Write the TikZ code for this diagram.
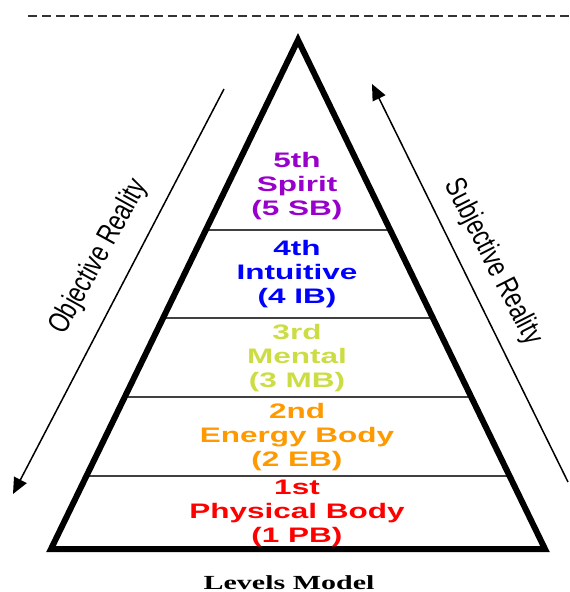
\documentclass[tikz,border=0pt]{standalone}
\usepackage{graphicx}
\usepackage{fontspec}
\setmainfont{Liberation Sans}
\newfontfamily\titlefont{Liberation Serif}
\usetikzlibrary{arrows.meta}
\usetikzlibrary{positioning}
\definecolor{spirit}{RGB}{153,0,204}
\definecolor{intuit}{RGB}{0,0,255}
\definecolor{mental}{RGB}{204,221,68}
\definecolor{energy}{RGB}{255,153,0}
\definecolor{physic}{RGB}{255,0,0}
\newcommand{\wide}[1]{\scalebox{1.5}[1]{#1}}
\newcommand{\narrow}[1]{\scalebox{0.76}[1]{#1}}

\begin{document}
\begin{tikzpicture}[x=1pt,y=-1pt,
  level/.style={align=center,font=\fontsize{21}{24}\bfseries\selectfont},
  side/.style={font=\fontsize{30}{32}\selectfont},
  sep/.style={draw=black!75,line width=1.5pt},
  flow/.style={line width=1.5pt,-{Triangle[length=16pt,width=14pt]}}]
  \useasboundingbox (0,0) rectangle (570,592);
  \draw[black!80,line width=1.8pt,dash pattern=on 9pt off 5pt] (28,16) -- (570,16);
  \coordinate (top) at (298,40);
  \coordinate (bl) at (51,549);
  \coordinate (br) at (545,549);
  % layer borders
  \draw[sep] (205.8,230) -- (390.2,230);
  \draw[sep] (163.1,318) -- (432.9,318);
  \draw[sep] (124.7,397) -- (471.3,397);
  \draw[sep] (86.4,476) -- (509.6,476);
  \draw[line width=6pt] (top) -- (bl) -- (br) -- cycle;
  \node[level,spirit](l5) at (297,186) {\wide{5th}\\\wide{Spirit}\\\wide{(5 SB)}};
  \node[level,intuit](l4) at (297,274) {\wide{4th}\\\wide{Intuitive}\\\wide{(4 IB)}};
  \node[level,mental](l3) at (297,358) {\wide{3rd}\\\wide{Mental}\\\wide{(3 MB)}};
  \node[level,energy](l2) at (297,437) {\wide{2nd}\\\wide{Energy Body}\\\wide{(2 EB)}};
  \node[level,physic](l1) at (297,513) {\wide{1st}\\\wide{Physical Body}\\\wide{(1 PB)}};
  \node[anchor=base,font=\fontsize{20}{24}\titlefont\bfseries](title) at (289,589) {\wide{Levels Model}};
  % side arrows
  \coordinate (o1) at (224,89);
  \coordinate (o2) at (13,494);
  \coordinate (s1) at (568,482);
  \coordinate (s2) at (372,84);
  \draw[flow] (o1) -- (o2);
  \draw[flow] (s1) -- (s2);
  \node[side,rotate=61](obj) at (99,257) {\narrow{Objective Reality}};
  \node[side,rotate=-63](subj) at (493,262) {\narrow{Subjective Reality}};
\end{tikzpicture}
\end{document}
